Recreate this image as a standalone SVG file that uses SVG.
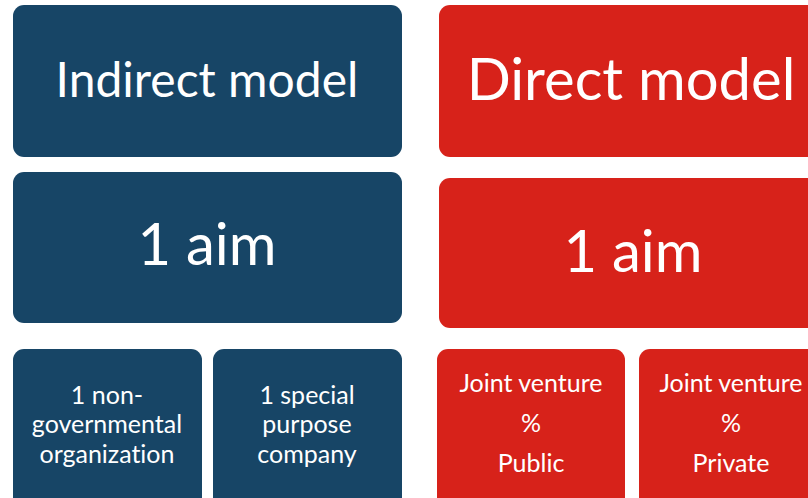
<svg xmlns="http://www.w3.org/2000/svg" width="808" height="498" viewBox="0 0 808 498">
<style>
.b{fill:#174566}
.r{fill:#d7221a}
text{fill:#fff;font-family:Lato,"Liberation Sans",sans-serif;text-anchor:middle;font-variant-ligatures:none;font-feature-settings:"liga" 0,"dlig" 0}
.h{font-size:48px}
.a{font-size:58px}
.m{font-size:25px}
</style>
<rect width="808" height="498" fill="#fff"/>
<g id="indirect-model"><rect class="b" x="13" y="5" width="389" height="152" rx="11"/><text class="h" x="207" y="97">Indirect model</text></g>
<g id="direct-model"><rect class="r" x="439" y="5" width="385" height="152" rx="11"/><text class="h" x="631" y="100" style="font-size:58px">Direct model</text></g>
<g id="indirect-aim"><rect class="b" x="13" y="172" width="389" height="151" rx="11"/><text class="a" x="207" y="265">1 aim</text></g>
<g id="direct-aim"><rect class="r" x="439" y="178" width="385" height="150" rx="11"/><text class="a" x="633" y="272">1 aim</text></g>
<g id="ngo"><rect class="b" x="13" y="349" width="189" height="160" rx="11"/><text class="m" x="107" y="404">1 non-</text><text class="m" x="107" y="433">governmental</text><text class="m" x="107" y="463">organization</text></g>
<g id="spc"><rect class="b" x="213" y="349" width="189" height="160" rx="11"/><text class="m" x="307" y="404">1 special</text><text class="m" x="307" y="433">purpose</text><text class="m" x="307" y="463">company</text></g>
<g id="jv-public"><rect class="r" x="437" y="349" width="188" height="160" rx="11"/><text class="m" x="531" y="392">Joint venture</text><text class="m" x="531" y="432">%</text><text class="m" x="531" y="472">Public</text></g>
<g id="jv-private"><rect class="r" x="639" y="349" width="185" height="160" rx="11"/><text class="m" x="731" y="392">Joint venture</text><text class="m" x="731" y="432">%</text><text class="m" x="731" y="472">Private</text></g>
<g id="connectors"></g>
</svg>
